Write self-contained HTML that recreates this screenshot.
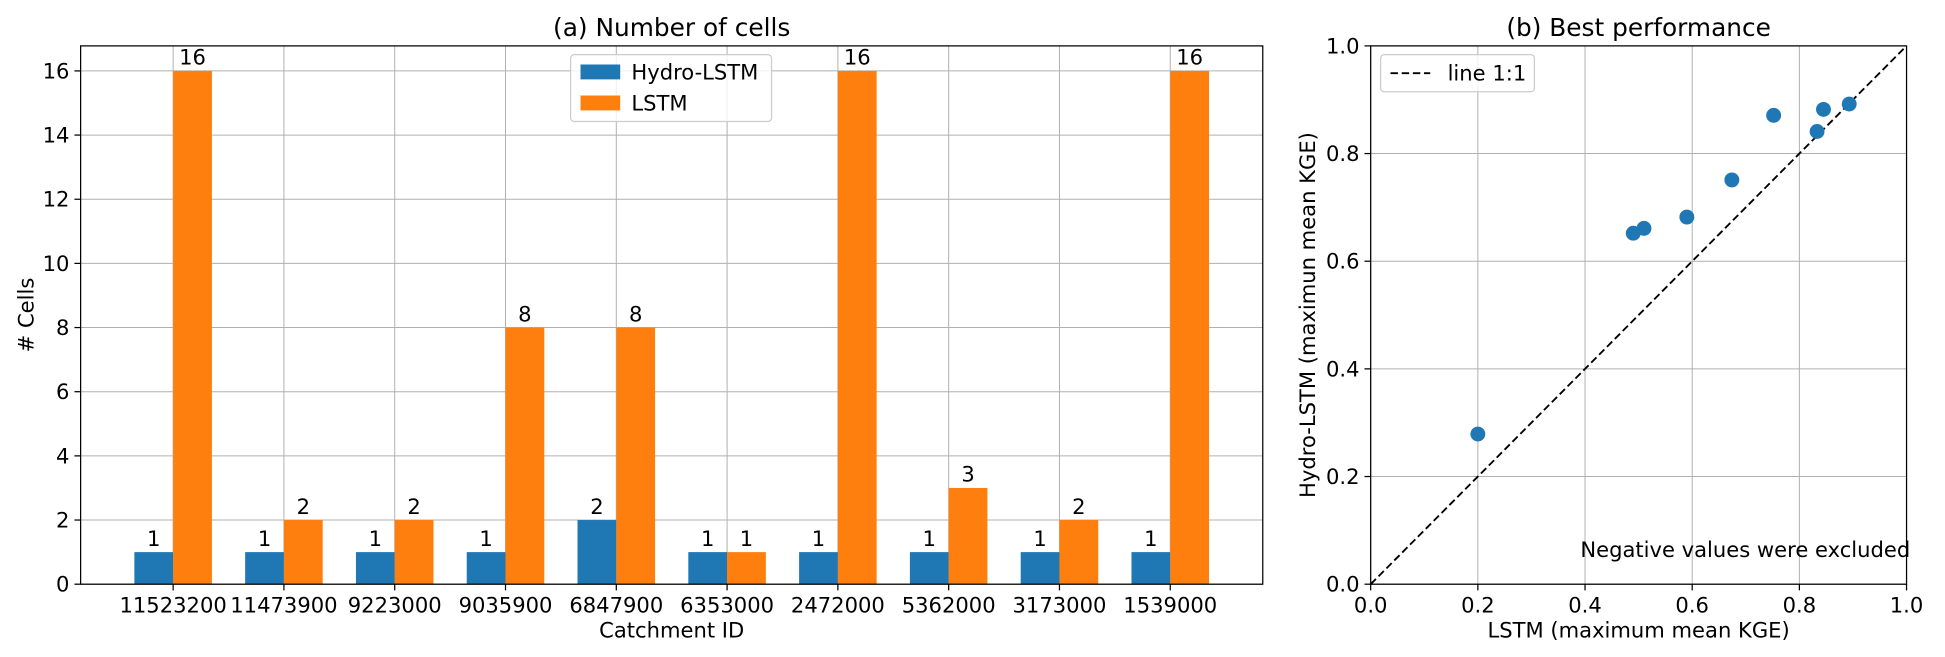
<!DOCTYPE html>
<html><head><meta charset="utf-8"><style>
body{margin:0;background:#fff;}
svg{display:block;font-family:"DejaVu Sans","Liberation Sans",sans-serif;}
</style></head><body>
<svg id="c" width="1945" height="657" viewBox="0 0 1568 529.7" preserveAspectRatio="none" xmlns="http://www.w3.org/2000/svg"></svg>
<script>
const categories=["11523200","11473900","9223000","9035900","6847900","6353000","2472000","5362000","3173000","1539000"];
const hydroCells=[1,1,1,1,2,1,1,1,1,1];
const lstmCells=[16,2,2,8,8,1,16,3,2,16];
const barTicks=[0,2,4,6,8,10,12,14,16];
const lstmKge=[0.2,0.49,0.51,0.59,0.674,0.752,0.833,0.845,0.893];
const hydroKge=[0.279,0.652,0.661,0.682,0.751,0.871,0.841,0.882,0.892];
const scTicks=[0,0.2,0.4,0.6,0.8,1.0];
const FS=17;
const S=document.getElementById('c'),NS="http://www.w3.org/2000/svg";
function el(t,a,p){const e=document.createElementNS(NS,t);for(const k in a)e.setAttribute(k,a[k]);(p||S).appendChild(e);return e;}
function tx(x,y,s,a,p){const e=el('text',Object.assign({x:x,y:y,'font-size':FS,fill:'#000'},a),p);e.textContent=s;return e;}
// Left chart
const L={x0:65,x1:1018,y0:37,y1:471};
const xl=i=>L.x0+(i+0.835)/(10.67)*(L.x1-L.x0);
const yl=v=>L.y1-v/16.78*(L.y1-L.y0);
const g1=el('g',{});

categories.forEach((c,i)=>{el('line',{x1:xl(i),x2:xl(i),y1:L.y0,y2:L.y1,stroke:'#b0b0b0','stroke-width':0.8},g1);});
barTicks.forEach(v=>{el('line',{x1:L.x0,x2:L.x1,y1:yl(v),y2:yl(v),stroke:'#b0b0b0','stroke-width':0.8},g1);
 el('line',{x1:L.x0-5,x2:L.x0,y1:yl(v),y2:yl(v),stroke:'#000'},g1);
 const t=tx(L.x0-9,yl(v)+6,String(v),{'text-anchor':'end'},g1);});
const bw=0.35*(xl(1)-xl(0));
categories.forEach((c,i)=>{
 const b1=el('rect',{x:xl(i)-bw,y:yl(hydroCells[i]),width:bw,height:yl(0)-yl(hydroCells[i]),fill:'#1f77b4'},g1);
 
 const b2=el('rect',{x:xl(i),y:yl(lstmCells[i]),width:bw,height:yl(0)-yl(lstmCells[i]),fill:'#ff7f0e'},g1);
 
 tx(xl(i)-bw/2,yl(hydroCells[i])-5,String(hydroCells[i]),{'text-anchor':'middle'},g1);
 tx(xl(i)+bw/2,yl(lstmCells[i])-5,String(lstmCells[i]),{'text-anchor':'middle'},g1);
 el('line',{x1:xl(i),x2:xl(i),y1:L.y1,y2:L.y1+5,stroke:'#000'},g1);
 const t=tx(xl(i),L.y1+23,c,{'text-anchor':'middle'},g1);
});
el('rect',{x:L.x0,y:L.y0,width:L.x1-L.x0,height:L.y1-L.y0,fill:'none',stroke:'#000','stroke-width':1},g1);
let t=tx((L.x0+L.x1)/2,29,'(a) Number of cells',{'text-anchor':'middle','font-size':20});
t=tx((L.x0+L.x1)/2,514,'Catchment ID',{'text-anchor':'middle'});
t=tx(0,0,'# Cells',{'text-anchor':'middle',transform:'translate(27,254) rotate(-90)'});
const lg=el('g',{});
el('rect',{x:460,y:44,width:162,height:54,rx:3,fill:'#fff','fill-opacity':0.8,stroke:'#ccc'},lg);
el('rect',{x:468,y:52,width:32,height:12,fill:'#1f77b4'},lg);tx(509,64,'Hydro-LSTM',{},lg);
el('rect',{x:468,y:77,width:32,height:12,fill:'#ff7f0e'},lg);tx(509,89,'LSTM',{},lg);
// Right chart
const R={x0:1105,x1:1537,y0:37,y1:471};
const xr=v=>R.x0+v*(R.x1-R.x0), yr=v=>R.y1-v*(R.y1-R.y0);
const g2=el('g',{});
scTicks.forEach(v=>{
 el('line',{x1:xr(v),x2:xr(v),y1:R.y0,y2:R.y1,stroke:'#b0b0b0','stroke-width':0.8},g2);
 el('line',{x1:R.x0,x2:R.x1,y1:yr(v),y2:yr(v),stroke:'#b0b0b0','stroke-width':0.8},g2);
 el('line',{x1:xr(v),x2:xr(v),y1:R.y1,y2:R.y1+5,stroke:'#000'},g2);
 el('line',{x1:R.x0-5,x2:R.x0,y1:yr(v),y2:yr(v),stroke:'#000'},g2);
 tx(xr(v),R.y1+23,v.toFixed(1),{'text-anchor':'middle'},g2);
 tx(R.x0-9,yr(v)+6,v.toFixed(1),{'text-anchor':'end'},g2);
});
const ln=el('line',{x1:xr(0),y1:yr(0),x2:xr(1),y2:yr(1),stroke:'#000','stroke-width':1.5,'stroke-dasharray':'6,3'},g2);

lstmKge.forEach((v,i)=>{const c=el('circle',{cx:xr(v),cy:yr(hydroKge[i]),r:6,fill:'#1f77b4'},g2);
 });
el('rect',{x:R.x0,y:R.y0,width:R.x1-R.x0,height:R.y1-R.y0,fill:'none',stroke:'#000'},g2);
tx(1540,449,'Negative values were excluded',{'text-anchor':'end'},g2);
const lg2=el('g',{});
el('rect',{x:1113,y:44,width:124,height:30,rx:3,fill:'#fff','fill-opacity':0.8,stroke:'#ccc'},lg2);
el('line',{x1:1121,x2:1153,y1:59,y2:59,stroke:'#000','stroke-width':1.5,'stroke-dasharray':'6,3'},lg2);
tx(1167,65,'line 1:1',{},lg2);
t=tx((R.x0+R.x1)/2,29,'(b) Best performance',{'text-anchor':'middle','font-size':20});
t=tx((R.x0+R.x1)/2,514,'LSTM (maximum mean KGE)',{'text-anchor':'middle'});
t=tx(0,0,'Hydro-LSTM (maximun mean KGE)',{'text-anchor':'middle',transform:'translate(1060,254) rotate(-90)'});
</script>
</body></html>
